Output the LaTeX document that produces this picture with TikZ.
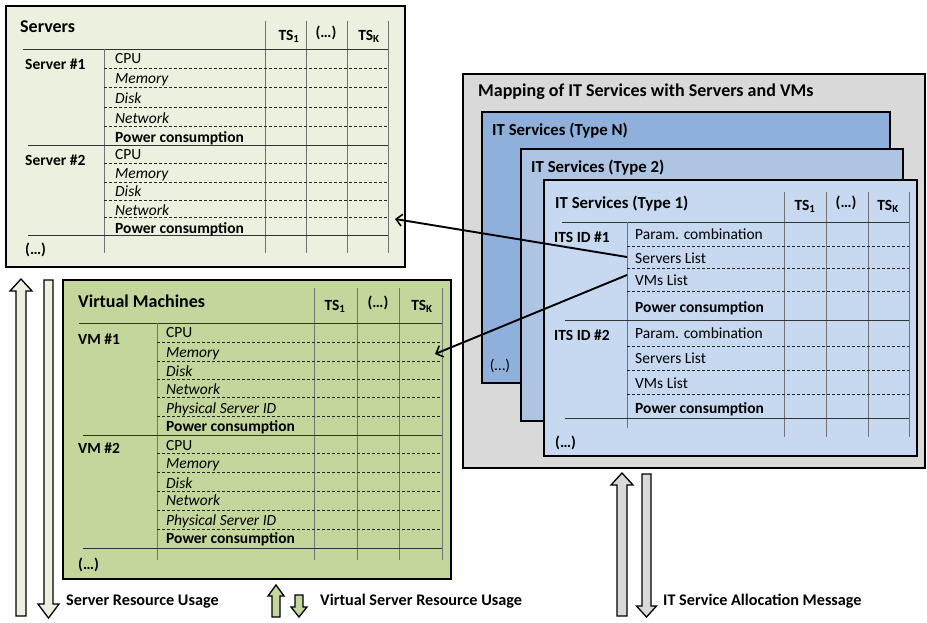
\documentclass[tikz,border=0pt]{standalone}
\usepackage{fontspec}
\setmainfont{Carlito}
\usetikzlibrary{arrows.meta}

\definecolor{srvfill}{HTML}{EBF1DE}
\definecolor{vmfill}{HTML}{C3D69B}
\definecolor{mapfill}{HTML}{D9D9D9}
\definecolor{typeNfill}{HTML}{8EB0DA}
\definecolor{typeTwofill}{HTML}{ADC4E3}
\definecolor{typeOnefill}{HTML}{C6D9F1}

\newcommand{\tabfont}{\fontsize{15.5}{17}\selectfont}
\newcommand{\ttlfont}{\fontsize{18}{20}\selectfont}
\newcommand{\subttlfont}{\fontsize{16.8}{19}\selectfont}
\newcommand{\capfont}{\fontsize{16.2}{18}\selectfont}

% outlined block arrows: centre x, shaft half width, head half width, tip y, head base y, tail y
\newcommand{\blkarrow}[7]{%
  \draw[blk, fill=#7] ({#1-#2},#6) -- ({#1-#2},#5) -- ({#1-#3},#5) -- (#1,#4)
    -- ({#1+#3},#5) -- ({#1+#2},#5) -- ({#1+#2},#6) -- cycle;}

\tikzset{
  panel/.style={draw=black, line width=2.4pt, fill=#1},
  rowtxt/.style={anchor=west, inner sep=0pt, text height=13pt, text depth=3pt, font=\tabfont},
  rowit/.style={rowtxt, font=\tabfont\itshape},
  rowbf/.style={rowtxt, font=\tabfont\bfseries},
  hdtxt/.style={inner sep=0pt, font=\tabfont\bfseries},
  ttl/.style={anchor=west, inner sep=0pt, text height=15pt, text depth=3.4pt, font=\ttlfont\bfseries},
  subttl/.style={anchor=west, inner sep=0pt, text height=14.3pt, text depth=3.5pt, font=\subttlfont\bfseries},
  captxt/.style={anchor=west, inner sep=0pt, text height=13.9pt, text depth=3.5pt, font=\capfont\bfseries},
  solidrule/.style={draw=black!80, line width=0.9pt},
  dashrule/.style={draw=black!85, line width=0.7pt, dash pattern=on 3pt off 2pt},
  colrule/.style={draw=black!55, line width=0.9pt},
  link/.style={draw=black, line width=1.9pt, -{Straight Barb[length=6pt,width=12pt,line width=1.5pt]}},
  blk/.style={draw=black, line width=1.3pt, line join=miter},
}

\begin{document}
\begin{tikzpicture}[x=1pt, y=-1pt]
\fill[white] (0,0) rectangle (927,622);
\useasboundingbox (0,0) rectangle (927,622);

% ---------------- Servers ----------------
\draw[panel=srvfill] (6,6) rectangle (405,267);
\node[ttl] (srvttl) at (20,27) {Servers};
\foreach \x in {265,306,347,388} \draw[colrule] (\x,21) -- (\x,253);
\draw[solidrule] (23,49) -- (388,49);
\draw[colrule] (104,49) -- (104,253);
\foreach \y in {68,87,107,126,163,182,200,217} \draw[dashrule] (104,\y) -- (388,\y);
\foreach \y in {145,235} \draw[solidrule] (28,\y) -- (388,\y);
\node[hdtxt] (srvts1) at (289,36) {TS\textsubscript{1}};
\node[hdtxt] (srvdots) at (326,33) {(…)};
\node[hdtxt] (srvtsk) at (369,36) {TS\textsubscript{K}};
\node[rowbf] (srvone) at (25,64) {Server \#1};
\node[rowbf] (srvtwo) at (25,160) {Server \#2};
\node[rowbf] (srvmore) at (25,249) {(…)};
\foreach \y in {58,154} \node[rowtxt] (srvcpu\y) at (115,\y) {CPU};
\foreach \y in {78,173} \node[rowit] (srvmem\y) at (115,\y) {Memory};
\foreach \y in {98,191} \node[rowit] (srvdisk\y) at (115,\y) {Disk};
\foreach \y in {118,210} \node[rowit] (srvnet\y) at (115,\y) {Network};
\foreach \y in {137,228} \node[rowbf] (srvpow\y) at (115,\y) {Power consumption};
\coordinate (srvtip) at (395,219);

% ---------------- Virtual Machines ----------------
\draw[panel=vmfill] (63,280) rectangle (451,579);
\node[ttl] (vmttl) at (78,302) {Virtual Machines};
\foreach \x in {314,357,399,442} \draw[colrule] (\x,288) -- (\x,560);
\draw[solidrule] (79,323) -- (442,323);
\draw[colrule] (157,323) -- (157,560);
\foreach \y in {342,361,379,397,416,453,472,491,510,529} \draw[dashrule] (157,\y) -- (442,\y);
\foreach \y in {435,548} \draw[solidrule] (83,\y) -- (442,\y);
\node[hdtxt] (vmts1) at (335,306) {TS\textsubscript{1}};
\node[hdtxt] (vmdots) at (378,303) {(…)};
\node[hdtxt] (vmtsk) at (422,306) {TS\textsubscript{K}};
\node[rowbf] (vmone) at (78,339) {VM \#1};
\node[rowbf] (vmtwo) at (78,448) {VM \#2};
\node[rowbf] (vmmore) at (78,564) {(…)};
\foreach \y in {332,445} \node[rowtxt] (vmcpu\y) at (166,\y) {CPU};
\foreach \y in {352,463} \node[rowit] (vmmem\y) at (166,\y) {Memory};
\foreach \y in {371,483} \node[rowit] (vmdisk\y) at (166,\y) {Disk};
\foreach \y in {389,500} \node[rowit] (vmnet\y) at (166,\y) {Network};
\foreach \y in {408,520} \node[rowit] (vmpsid\y) at (166,\y) {Physical Server ID};
\foreach \y in {426,538} \node[rowbf] (vmpow\y) at (166,\y) {Power consumption};
\coordinate (vmtip) at (435,354);

% ---------------- Mapping of IT services ----------------
\draw[panel=mapfill] (463,74) rectangle (925,468);
\node[ttl] (mapttl) at (478,91) {Mapping of IT Services with Servers and VMs};
\draw[panel=typeNfill] (482,112) rectangle (890,383);
\node[subttl] (typeN) at (492,130) {IT Services (Type N)};
\node[rowtxt, anchor=center] (typeNmore) at (500,365) {(…)};
\draw[panel=typeTwofill] (521,149) rectangle (903,421);
\node[subttl] (typeTwo) at (531,167) {IT Services (Type 2)};
\draw[panel=typeOnefill] (544,180) rectangle (917,456);
\node[subttl] (typeOne) at (555,203) {IT Services (Type 1)};
\foreach \x in {784,826,868,909} \draw[colrule] (\x,192) -- (\x,437);
\draw[solidrule] (562,222) -- (909,222);
\draw[colrule] (627,222) -- (627,428);
\foreach \y in {246,268,291,346,370,394} \draw[dashrule] (627,\y) -- (909,\y);
\foreach \y in {320,418} \draw[solidrule] (565,\y) -- (909,\y);
\node[hdtxt] (itsts1) at (805,206) {TS\textsubscript{1}};
\node[hdtxt] (itsdots) at (846,203) {(…)};
\node[hdtxt] (itstsk) at (888,206) {TS\textsubscript{K}};
\node[rowbf] (itsone) at (554,237) {ITS ID \#1};
\node[rowbf] (itstwo) at (554,335) {ITS ID \#2};
\node[rowbf] (itsmore) at (555,442) {(…)};
\foreach \y in {234,333} \node[rowtxt] (itspar\y) at (635,\y) {Param. combination};
\foreach \y in {258,358} \node[rowtxt] (itssrv\y) at (635,\y) {Servers List};
\foreach \y in {280,383} \node[rowtxt] (itsvm\y) at (635,\y) {VMs List};
\foreach \y in {307,408} \node[rowbf] (itspow\y) at (635,\y) {Power consumption};
\coordinate (srvlistend) at (627,257);
\coordinate (vmlistend) at (627,275);

% ---------------- links between tables ----------------
\draw[link] (srvlistend) -- (srvtip);
\draw[link] (vmlistend) -- (vmtip);

% ---------------- message arrows ----------------
\blkarrow{21}{5}{11}{279}{291}{616}{srvfill}
\blkarrow{48.5}{4.5}{10.5}{618}{604}{280}{srvfill}
\blkarrow{276}{4}{8}{585}{596}{617}{vmfill}
\blkarrow{299}{4}{8}{617}{607}{595}{vmfill}
\blkarrow{622}{5}{11}{473}{485}{616}{mapfill}
\blkarrow{646.5}{4.5}{10}{617}{606}{474}{mapfill}

\node[captxt] (capsrv) at (66,600) {Server Resource Usage};
\node[captxt] (capvm) at (320,600) {Virtual Server Resource Usage};
\node[captxt] (capits) at (663,600) {IT Service Allocation Message};
\end{tikzpicture}
\end{document}
